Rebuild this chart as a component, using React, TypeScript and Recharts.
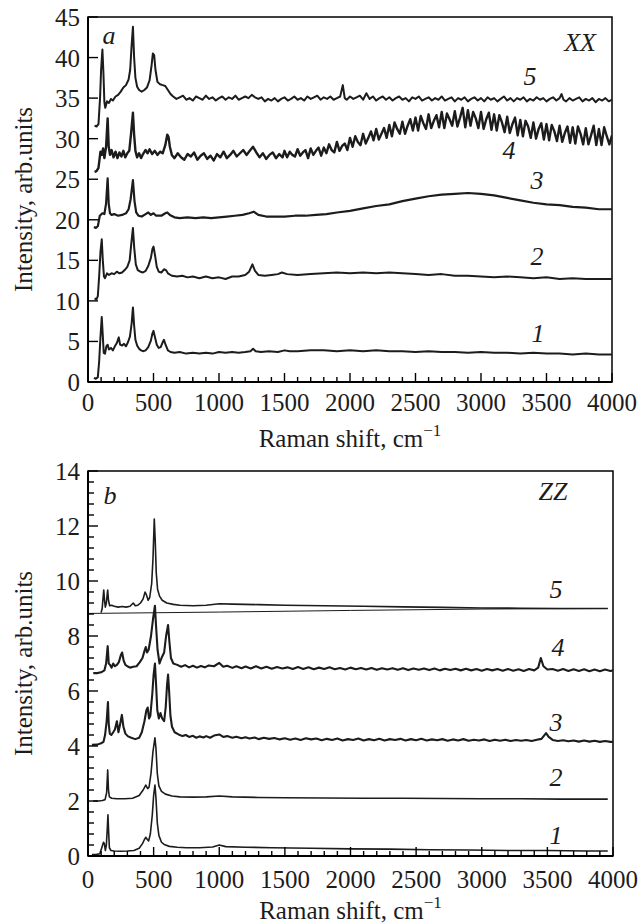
import React from 'react';
import { LineChart, Line, XAxis, YAxis, ReferenceArea, ReferenceDot } from 'recharts';

// ---------- Panel a (XX) ----------
const xxCurve1: number[][] = [[45,0.5],[60,0.4],[75,0.6],[85,2.5],[95,5.5],[105,8.0],[112,6.0],[120,3.6],[130,3.5],[140,4.4],[150,4.6],[160,4.0],[175,4.2],[190,3.9],[205,4.4],[220,4.8],[235,5.5],[245,4.6],[260,4.5],[275,4.7],[290,4.4],[305,4.9],[320,5.6],[333,7.2],[343,9.2],[352,7.0],[362,5.2],[375,4.5],[390,4.1],[405,3.9],[420,3.8],[440,3.9],[460,4.3],[480,5.1],[492,6.0],[500,6.3],[510,5.6],[525,4.6],[540,4.2],[555,4.3],[570,4.9],[580,5.2],[592,4.6],[610,3.9],[630,3.7],[660,3.6],[700,3.7],[750,3.5],[800,3.6],[850,3.5],[900,3.6],[950,3.5],[1000,3.7],[1050,3.6],[1100,3.7],[1150,3.6],[1200,3.7],[1240,3.8],[1260,4.1],[1280,3.8],[1320,3.7],[1380,3.8],[1450,3.7],[1500,3.9],[1540,3.8],[1600,3.8],[1700,3.9],[1800,3.9],[1900,3.8],[2000,3.9],[2100,3.8],[2200,3.9],[2300,3.8],[2400,3.8],[2500,3.7],[2600,3.8],[2700,3.7],[2800,3.7],[2900,3.6],[3000,3.7],[3100,3.6],[3200,3.6],[3300,3.5],[3400,3.6],[3500,3.5],[3600,3.5],[3700,3.4],[3800,3.5],[3900,3.4],[4000,3.4]];

const xxCurve2: number[][] = [[50,10.3],[65,10.2],[75,10.6],[85,13],[95,16],[105,17.6],[113,15],[122,13.0],[130,12.8],[145,13.4],[160,13.2],[180,13.4],[200,13.3],[220,13.6],[240,13.4],[260,13.5],[280,13.8],[300,14.2],[318,15.0],[330,17],[343,19.0],[353,16.5],[365,14.5],[380,13.8],[400,13.6],[420,13.5],[440,13.7],[460,14.3],[480,15.3],[492,16.4],[500,16.7],[510,15.8],[525,14.2],[540,13.6],[560,13.5],[580,13.9],[595,13.8],[610,13.4],[640,13.1],[680,13.0],[720,13.1],[760,12.9],[800,13.0],[850,12.8],[900,13.0],[950,12.8],[1000,12.9],[1050,12.7],[1100,13.0],[1150,13.0],[1200,13.2],[1230,13.6],[1255,14.5],[1275,13.7],[1300,13.2],[1350,13.1],[1400,13.2],[1450,13.3],[1480,13.5],[1520,13.3],[1600,13.2],[1700,13.3],[1800,13.4],[1900,13.5],[2000,13.4],[2100,13.5],[2200,13.4],[2300,13.5],[2400,13.4],[2500,13.3],[2600,13.2],[2700,13.3],[2800,13.1],[2900,13.1],[3000,13.0],[3100,12.9],[3200,13.0],[3300,12.9],[3400,12.8],[3500,12.9],[3600,12.7],[3700,12.8],[3800,12.7],[3900,12.7],[4000,12.7]];

const xxCurve3: number[][] = [[45,19.1],[60,19.0],[75,19.2],[90,20.5],[110,20.8],[125,20.7],[138,22],[150,25.1],[158,22],[168,20.8],[180,20.6],[200,20.7],[230,20.5],[260,20.6],[290,20.8],[310,21.3],[325,22.5],[343,24.9],[355,22.3],[368,20.9],[385,20.5],[410,20.4],[440,20.7],[460,20.9],[480,20.6],[500,20.8],[520,20.5],[560,20.5],[590,20.8],[605,20.9],[625,20.6],[660,20.3],[700,20.2],[760,20.3],[820,20.2],[880,20.3],[940,20.2],[1000,20.3],[1060,20.4],[1120,20.5],[1180,20.6],[1230,20.8],[1265,21.0],[1300,20.6],[1360,20.4],[1420,20.4],[1500,20.4],[1580,20.5],[1660,20.5],[1740,20.6],[1820,20.7],[1900,20.9],[2000,21.1],[2100,21.4],[2200,21.7],[2300,21.9],[2400,22.3],[2500,22.6],[2600,22.9],[2700,23.1],[2800,23.2],[2900,23.3],[3000,23.2],[3100,23.0],[3200,22.7],[3300,22.4],[3400,22.1],[3500,21.9],[3600,21.8],[3700,21.6],[3800,21.5],[3900,21.3],[4000,21.3]];

const xxCurve4: number[][] = [[50,25.9],[65,26.0],[80,26.4],[95,28.4],[105,28.0],[115,28.8],[125,27.6],[138,29],[150,32.5],[158,29],[168,28.0],[180,28.6],[195,27.7],[210,28.4],[225,27.6],[240,28.3],[255,27.8],[270,28.5],[285,27.7],[300,28.2],[315,28.5],[328,30.5],[343,33.2],[352,30.5],[362,28.5],[375,27.7],[390,28.2],[405,27.6],[420,28.1],[440,28.6],[455,28.2],[470,28.7],[490,28.1],[510,28.5],[530,28.0],[550,28.4],[570,28.2],[590,29.2],[605,30.5],[615,30.2],[625,29.0],[640,28.0],[660,27.6],[685,28.2],[710,27.7],[735,27.4],[760,28.1],[785,27.8],[810,28.3],[835,27.4],[860,27.9],[885,28.2],[910,27.5],[935,27.9],[960,27.3],[985,28.1],[1010,27.7],[1035,28.4],[1060,27.6],[1085,28.0],[1110,28.5],[1135,27.8],[1160,28.2],[1185,28.6],[1210,28.0],[1235,28.5],[1260,29.0],[1285,28.3],[1310,27.7],[1335,28.2],[1360,27.5],[1385,28.0],[1410,28.3],[1435,27.6],[1460,28.1],[1485,27.7],[1500,28.5],[1520,27.7],[1540,28.4],[1560,28.0],[1580,27.8],[1600,28.7],[1620,27.9],[1640,28.3],[1660,28.6],[1680,27.6],[1700,28.8],[1720,28.0],[1740,28.5],[1760,28.9],[1780,27.9],[1800,28.9],[1820,28.2],[1840,29.3],[1860,28.6],[1880,28.3],[1900,29.6],[1920,28.5],[1940,29.1],[1960,29.4],[1980,28.6],[2000,30.1],[2020,29.0],[2040,30.3],[2060,29.6],[2080,29.2],[2100,30.6],[2120,29.4],[2140,30.1],[2160,30.9],[2180,29.8],[2200,31.2],[2220,29.9],[2240,30.6],[2260,31.3],[2280,30.1],[2300,31.7],[2320,30.3],[2340,32.0],[2360,31.2],[2380,30.6],[2400,32.1],[2420,30.6],[2440,31.6],[2460,32.4],[2480,31.0],[2500,32.6],[2520,31.0],[2540,32.8],[2560,31.9],[2580,31.2],[2600,33.0],[2620,31.3],[2640,32.2],[2660,32.9],[2680,31.4],[2700,33.3],[2720,31.3],[2740,33.1],[2760,32.4],[2780,31.6],[2800,33.4],[2820,31.5],[2840,32.6],[2860,33.8],[2880,31.4],[2900,33.5],[2920,31.6],[2940,33.3],[2960,32.5],[2980,31.3],[3000,33.3],[3020,31.2],[3040,32.4],[3060,33.2],[3080,31.1],[3100,33.0],[3120,31.0],[3140,32.9],[3160,32.0],[3180,30.8],[3200,32.7],[3220,30.7],[3240,31.8],[3260,32.6],[3280,30.4],[3300,32.3],[3320,30.3],[3340,32.2],[3360,31.5],[3380,30.1],[3400,32.0],[3420,30.0],[3440,31.2],[3460,31.9],[3480,29.9],[3500,31.8],[3520,29.8],[3540,31.7],[3560,30.9],[3580,29.7],[3600,31.6],[3620,29.6],[3640,30.7],[3660,31.5],[3680,29.5],[3700,31.4],[3720,29.4],[3740,31.5],[3760,30.6],[3780,29.3],[3800,31.3],[3820,29.3],[3840,30.4],[3860,31.6],[3880,29.2],[3900,31.2],[3920,29.2],[3940,31.4],[3960,30.3],[3980,29.3],[4000,30.4]];

const xxCurve5: number[][] = [[50,31.6],[65,31.5],[80,31.8],[92,35],[100,38.5],[110,41.0],[118,38],[125,34.5],[132,33.8],[145,34.6],[160,34.4],[175,34.9],[190,34.7],[210,35.2],[230,35.4],[250,35.8],[270,36.3],[290,36.6],[310,37.3],[322,38.5],[333,41.5],[343,43.8],[352,40],[362,37.5],[375,36.4],[390,36.0],[410,35.8],[430,36.0],[450,36.3],[470,37.2],[485,39],[495,40.5],[505,40.3],[515,38.5],[530,37.0],[550,36.7],[570,36.6],[590,36.5],[610,36.0],[630,35.5],[650,35.2],[675,34.9],[700,35.1],[725,35.3],[750,34.8],[775,35.0],[800,34.7],[825,35.2],[850,35.0],[875,34.8],[900,35.3],[925,34.9],[950,35.1],[975,34.7],[1000,35.0],[1025,35.2],[1050,34.8],[1075,35.1],[1100,34.9],[1125,35.3],[1150,34.8],[1175,35.0],[1200,35.2],[1225,35.0],[1250,35.4],[1275,35.1],[1300,34.9],[1325,35.1],[1350,34.6],[1375,34.9],[1400,34.7],[1425,35.0],[1450,34.6],[1475,34.9],[1500,35.1],[1525,34.7],[1550,34.9],[1575,35.2],[1600,34.8],[1625,35.0],[1650,34.7],[1675,35.2],[1700,34.9],[1725,35.1],[1750,35.3],[1775,34.8],[1800,35.1],[1825,34.9],[1850,35.2],[1875,34.8],[1900,35.0],[1925,35.2],[1945,36.6],[1960,35.0],[1975,34.8],[2000,35.2],[2025,34.9],[2050,35.1],[2075,35.3],[2100,34.8],[2125,35.6],[2150,34.9],[2175,35.2],[2200,34.7],[2225,35.0],[2250,35.2],[2275,34.8],[2300,35.1],[2325,34.7],[2350,35.0],[2375,35.2],[2400,34.8],[2425,35.0],[2450,34.6],[2475,35.1],[2500,34.9],[2525,35.2],[2550,34.7],[2575,34.9],[2600,35.1],[2625,34.7],[2650,35.0],[2675,34.8],[2700,35.2],[2725,34.7],[2750,34.9],[2775,35.1],[2800,34.6],[2825,35.0],[2850,34.8],[2875,35.1],[2900,34.6],[2925,34.9],[2950,35.1],[2975,34.7],[3000,35.0],[3025,34.6],[3050,35.1],[3075,34.8],[3100,35.0],[3125,34.6],[3150,34.9],[3175,35.2],[3200,34.7],[3225,35.0],[3250,34.6],[3275,35.0],[3300,34.8],[3325,35.1],[3350,34.6],[3375,34.9],[3400,34.7],[3425,35.1],[3450,34.8],[3475,35.0],[3500,34.6],[3525,34.9],[3550,35.1],[3575,34.7],[3600,35.0],[3615,35.5],[3630,34.8],[3650,34.6],[3675,35.0],[3700,34.7],[3725,34.9],[3750,35.1],[3775,34.6],[3800,34.9],[3825,34.7],[3850,35.0],[3875,34.5],[3900,34.9],[3925,34.7],[3950,35.0],[3975,34.6],[4000,34.8]];

// ---------- Panel b (ZZ) ----------
const zzCurve1: number[][] = [[30,0.05],[60,0.05],[90,0.08],[105,0.3],[118,0.5],[125,0.45],[132,0.2],[140,0.4],[147,1.0],[152,1.5],[157,0.9],[163,0.3],[175,0.2],[200,0.18],[250,0.17],[300,0.18],[350,0.2],[390,0.28],[415,0.45],[430,0.6],[440,0.68],[452,0.6],[462,0.55],[475,0.8],[490,1.5],[500,2.2],[510,2.58],[518,2.1],[528,1.2],[540,0.75],[560,0.5],[580,0.42],[620,0.35],[680,0.32],[750,0.3],[850,0.3],[950,0.33],[1000,0.4],[1050,0.34],[1200,0.32],[1400,0.3],[1700,0.28],[2000,0.26],[2300,0.25],[2600,0.23],[2900,0.22],[3200,0.2],[3500,0.2],[3800,0.18],[3960,0.18]];

const zzCurve2: number[][] = [[40,2.0],[80,2.0],[110,2.02],[130,2.05],[142,2.3],[150,3.13],[156,2.4],[163,2.15],[180,2.1],[220,2.08],[280,2.08],[340,2.1],[390,2.2],[420,2.4],[440,2.58],[455,2.45],[465,2.5],[480,3.0],[495,3.8],[510,4.3],[518,3.9],[528,3.0],[540,2.55],[560,2.35],[590,2.25],[640,2.18],[700,2.15],[800,2.14],[900,2.15],[1000,2.18],[1100,2.15],[1300,2.13],[1500,2.12],[1800,2.11],[2100,2.1],[2400,2.1],[2700,2.09],[3000,2.08],[3300,2.08],[3600,2.07],[3960,2.07]];

const zzCurve3: number[][] = [[30,4.04],[70,4.05],[100,4.1],[118,4.15],[130,4.4],[142,4.9],[152,5.6],[158,4.8],[166,4.45],[178,4.4],[192,4.5],[205,4.6],[220,4.9],[232,4.5],[245,4.8],[258,5.13],[270,4.7],[285,4.45],[305,4.35],[330,4.3],[360,4.25],[390,4.3],[410,4.5],[430,4.9],[445,5.3],[455,5.4],[465,5.0],[475,5.1],[490,5.9],[500,6.6],[510,7.0],[518,6.3],[528,5.3],[540,5.0],[552,5.2],[565,5.0],[580,4.9],[592,5.4],[602,6.2],[610,6.6],[618,6.0],[628,5.1],[640,4.7],[660,4.5],[690,4.42],[720,4.36],[745,4.4],[770,4.33],[800,4.37],[825,4.3],[850,4.35],[880,4.31],[900,4.36],[930,4.3],[960,4.38],[1000,4.42],[1030,4.33],[1060,4.36],[1100,4.3],[1130,4.34],[1170,4.28],[1200,4.32],[1230,4.27],[1270,4.31],[1300,4.25],[1340,4.3],[1380,4.26],[1420,4.29],[1460,4.24],[1500,4.28],[1540,4.23],[1580,4.27],[1620,4.22],[1660,4.28],[1700,4.24],[1740,4.27],[1780,4.21],[1820,4.26],[1860,4.22],[1900,4.27],[1940,4.2],[1980,4.25],[2020,4.22],[2060,4.27],[2100,4.2],[2140,4.25],[2180,4.21],[2220,4.26],[2260,4.2],[2300,4.25],[2340,4.22],[2380,4.26],[2420,4.2],[2460,4.25],[2500,4.21],[2540,4.26],[2580,4.2],[2620,4.24],[2660,4.21],[2700,4.25],[2740,4.19],[2780,4.24],[2820,4.2],[2860,4.25],[2900,4.19],[2940,4.23],[2980,4.2],[3020,4.24],[3060,4.18],[3100,4.23],[3140,4.19],[3180,4.23],[3220,4.18],[3260,4.22],[3300,4.19],[3340,4.22],[3380,4.18],[3420,4.23],[3455,4.26],[3490,4.47],[3510,4.33],[3540,4.22],[3580,4.18],[3620,4.21],[3660,4.17],[3700,4.2],[3740,4.16],[3780,4.2],[3820,4.16],[3860,4.19],[3900,4.15],[3940,4.18],[3980,4.15],[4000,4.15]];

const zzCurve4: number[][] = [[40,6.65],[70,6.65],[100,6.68],[125,6.75],[138,7.0],[150,7.63],[158,7.0],[168,6.95],[180,6.85],[192,7.0],[205,6.9],[220,6.95],[235,7.05],[250,7.3],[260,7.4],[272,7.1],[285,6.95],[300,6.9],[320,6.85],[345,6.88],[370,6.9],[395,7.05],[415,7.2],[430,7.45],[440,7.6],[450,7.4],[462,7.5],[480,8.0],[495,8.6],[510,9.1],[518,8.4],[530,7.5],[545,7.0],[560,7.2],[580,7.4],[595,8.0],[610,8.4],[620,7.8],[632,7.2],[650,7.0],[680,6.95],[710,6.88],[740,6.94],[770,6.86],[800,6.92],[830,6.85],[860,6.91],[890,6.86],[920,6.93],[960,6.9],[1000,7.02],[1030,6.88],[1060,6.92],[1100,6.84],[1130,6.9],[1170,6.83],[1200,6.89],[1240,6.82],[1280,6.9],[1320,6.82],[1360,6.88],[1400,6.81],[1440,6.87],[1480,6.82],[1520,6.86],[1560,6.8],[1600,6.87],[1640,6.8],[1680,6.86],[1720,6.79],[1760,6.85],[1800,6.8],[1840,6.86],[1880,6.79],[1920,6.84],[1960,6.78],[2000,6.85],[2040,6.79],[2080,6.84],[2120,6.78],[2160,6.84],[2200,6.77],[2240,6.83],[2280,6.78],[2320,6.83],[2360,6.77],[2400,6.83],[2440,6.76],[2480,6.82],[2520,6.77],[2560,6.82],[2600,6.76],[2640,6.82],[2680,6.75],[2720,6.81],[2760,6.76],[2800,6.81],[2840,6.75],[2880,6.81],[2920,6.75],[2960,6.8],[3000,6.74],[3040,6.8],[3080,6.75],[3120,6.8],[3160,6.74],[3200,6.8],[3240,6.74],[3280,6.79],[3320,6.73],[3360,6.8],[3400,6.75],[3430,6.85],[3450,7.2],[3470,6.9],[3500,6.78],[3540,6.8],[3580,6.74],[3620,6.8],[3660,6.73],[3700,6.79],[3740,6.73],[3780,6.79],[3820,6.72],[3860,6.78],[3900,6.72],[3940,6.78],[3980,6.73],[4000,6.75]];

const zzCurve5: number[][] = [[100,8.85],[108,9.0],[115,9.4],[120,9.67],[126,9.3],[132,9.05],[140,9.2],[146,9.5],[150,9.67],[156,9.3],[165,9.1],[180,9.12],[200,9.08],[230,9.05],[260,9.07],[290,9.05],[320,9.08],[345,9.2],[360,9.1],[380,9.12],[400,9.2],[420,9.35],[435,9.6],[445,9.5],[458,9.3],[470,9.4],[485,9.9],[495,10.8],[505,12.25],[512,11.5],[520,10.3],[530,9.7],[545,9.45],[565,9.3],[600,9.2],[650,9.15],[700,9.12],[800,9.1],[900,9.12],[1000,9.17],[1100,9.16],[1300,9.14],[1500,9.12],[1800,9.1],[2100,9.08],[2400,9.06],[2700,9.04],[3000,9.02],[3300,9.01],[3600,9.0],[3960,9.0]];

const zzBaseline5: number[][] = [[0,8.82],[1000,8.87],[2000,8.93],[3000,8.98],[3960,9.0]];

// ---------- Ticks & labels ----------
const xTicks: number[] = Array.from({ length: 41 }, (_, i) => i * 100);
const xxYTicks: number[] = [0, 5, 10, 15, 20, 25, 30, 35, 40, 45];
const zzYTicks: number[] = Array.from({ length: 36 }, (_, i) => +(i * 0.4).toFixed(1));

const xxLabels = [
  { x: 160, y: 42.7, t: 'a' },
  { x: 3756, y: 41.9, t: 'XX' },
  { x: 3374, y: 37.7, t: '5' },
  { x: 3214, y: 28.5, t: '4' },
  { x: 3427, y: 24.8, t: '3' },
  { x: 3427, y: 15.5, t: '2' },
  { x: 3435, y: 6.0, t: '1' },
];
const zzLabels = [
  { x: 168, y: 13.1, t: 'b' },
  { x: 3542, y: 13.24, t: 'ZZ' },
  { x: 3565, y: 9.7, t: '5' },
  { x: 3580, y: 7.6, t: '4' },
  { x: 3565, y: 4.87, t: '3' },
  { x: 3565, y: 2.84, t: '2' },
  { x: 3565, y: 0.76, t: '1' },
];

const FONT = "'Liberation Serif', 'Times New Roman', serif";
const INK = '#1c1c1c';
const toPts = (a: number[][]) => a.map(([x, y]) => ({ x, y }));

type Series = { data: number[][]; w: number };

function Panel(props: {
  height: number; marginTop: number; marginRight: number; xAxisHeight: number;
  yMax: number; yTicks: number[]; isMajorY: (v: number) => boolean;
  series: Series[]; labels: { x: number; y: number; t: string }[];
  tickLabelDy: number; axisLabelDy: number;
}) {
  const { height, marginTop, marginRight, xAxisHeight, yMax, yTicks, isMajorY, series, labels, tickLabelDy, axisLabelDy } = props;
  const xTick = (p: any) => {
    const v = p.payload.value;
    const major = v % 500 === 0;
    return (
      <g>
        <line x1={p.x} x2={p.x} y1={p.y} y2={p.y - (major ? 9 : 5)} stroke="#000" strokeWidth={1.4} />
        {major && (
          <text x={p.x} y={p.y + tickLabelDy} textAnchor="middle" fontSize={25} style={{ fontFamily: FONT }} fill={INK}>{v}</text>
        )}
      </g>
    );
  };
  const yTick = (p: any) => {
    const v = p.payload.value;
    const major = isMajorY(v);
    return (
      <g>
        <line x1={p.x} x2={p.x + (major ? 10 : 6)} y1={p.y} y2={p.y} stroke="#000" strokeWidth={1.4} />
        {major && (
          <text x={p.x - 8} y={p.y + 9} textAnchor="end" fontSize={25} style={{ fontFamily: FONT }} fill={INK}>{v}</text>
        )}
      </g>
    );
  };
  return (
    <LineChart width={644} height={height} margin={{ top: marginTop, right: marginRight, bottom: 0, left: 0 }}>
      <XAxis
        dataKey="x" type="number" domain={[0, 4000]} ticks={xTicks} interval={0}
        allowDataOverflow tickSize={0} tickMargin={0} tickLine={false}
        axisLine={{ stroke: '#000', strokeWidth: 2 }} height={xAxisHeight} tick={xTick}
        label={{
          content: (lp: any) => {
            const vb = lp.viewBox;
            return (
              <text x={vb.x + vb.width / 2} y={vb.y + axisLabelDy} textAnchor="middle" fontSize={25} style={{ fontFamily: FONT }} fill={INK}>
                <tspan>Raman shift, cm</tspan>
                <tspan dy={-11} fontSize={17}>−1</tspan>
              </text>
            );
          },
        }}
      />
      <YAxis
        dataKey="y" type="number" domain={[0, yMax]} ticks={yTicks} interval={0}
        allowDataOverflow tickSize={0} tickMargin={0} tickLine={false}
        axisLine={{ stroke: '#000', strokeWidth: 2 }} width={88} tick={yTick}
        label={{
          content: (lp: any) => {
            const vb = lp.viewBox;
            const cy = vb.y + vb.height / 2;
            return (
              <text transform={`translate(32, ${cy}) rotate(-90)`} textAnchor="middle" fontSize={25} style={{ fontFamily: FONT }} fill={INK}>
                Intensity, arb.units
              </text>
            );
          },
        }}
      />
      <ReferenceArea x1={0} x2={4000} y1={0} y2={yMax} fill="none" stroke="#000" strokeWidth={1.5} ifOverflow="visible" />
      {series.map((s, i) => (
        <Line key={i} data={toPts(s.data)} dataKey="y" type="linear" dot={false} activeDot={false}
          stroke={INK} strokeWidth={s.w} isAnimationActive={false} strokeLinejoin="round" />
      ))}
      {labels.map((l, i) => (
        <ReferenceDot key={'l' + i} x={l.x} y={l.y} r={0} ifOverflow="visible"
          shape={(p: any) => (
            <text x={p.cx} y={p.cy} textAnchor="middle" dominantBaseline="central" fontStyle="italic"
              fontSize={26} style={{ fontFamily: FONT }} fill={INK}>{l.t}</text>
          )}
        />
      ))}
    </LineChart>
  );
}

export default function App() {
  return (
    <div style={{ width: 644, height: 923, background: '#fff' }}>
      <style>{`body{margin:0;overflow:hidden;background:#fff}`}</style>
      <Panel
        height={457} marginTop={17} marginRight={32} xAxisHeight={75}
        yMax={45} yTicks={xxYTicks} isMajorY={() => true}
        series={[
          { data: xxCurve1, w: 2 }, { data: xxCurve2, w: 2 }, { data: xxCurve3, w: 2.2 },
          { data: xxCurve4, w: 2.4 }, { data: xxCurve5, w: 2.0 },
        ]}
        labels={xxLabels} tickLabelDy={29} axisLabelDy={65}
      />
      <Panel
        height={466} marginTop={14} marginRight={31} xAxisHeight={67}
        yMax={14} yTicks={zzYTicks} isMajorY={(v) => Math.abs(v / 2 - Math.round(v / 2)) < 1e-6}
        series={[
          { data: zzCurve1, w: 1.6 }, { data: zzCurve2, w: 1.6 }, { data: zzCurve3, w: 2.1 },
          { data: zzCurve4, w: 2.1 }, { data: zzBaseline5, w: 1 }, { data: zzCurve5, w: 1.6 },
        ]}
        labels={zzLabels} tickLabelDy={32} axisLabelDy={63}
      />
    </div>
  );
}
